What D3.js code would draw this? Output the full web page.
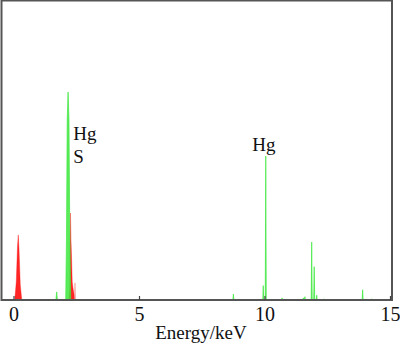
<!DOCTYPE html>
<html lang="en">
<head>
  <meta charset="UTF-8">
  <title>EDS spectrum</title>
  <script src="https://cdn.jsdelivr.net/npm/d3@7"></script>
  <style>
    body { margin: 0; background: #fff; }
    svg text { font-family: "Liberation Serif", "Times New Roman", serif; fill: #111; }
  </style>
</head>
<body>
<div id="chart"></div>

<script type="text/javascript">

  // spectrum traces: [energy keV, counts (arbitrary)]
  var greenTrace = [
    [1.69, 0], [1.72, 27], [1.75, 0],
    [2.08, 0], [2.11, 200], [2.14, 600], [2.175, 693], [2.21, 600], [2.24, 250], [2.28, 0],
    [8.74, 0], [8.76, 20], [8.78, 0],
    [9.93, 0], [9.95, 48], [9.97, 0],
    [10.03, 0], [10.05, 480], [10.07, 0],
    [10.69, 0], [10.7, 7], [10.71, 0],
    [11.53, 0], [11.55, 7], [11.57, 0],
    [11.59, 0], [11.61, 11], [11.63, 0],
    [11.86, 0], [11.88, 193], [11.9, 0],
    [11.96, 0], [11.98, 111], [12.0, 0],
    [12.06, 0], [12.08, 16], [12.1, 0],
    [12.36, 0], [12.37, 4], [12.38, 0],
    [13.89, 0], [13.91, 34], [13.93, 0],
    [14.24, 0], [14.27, 4], [14.3, 0]
  ];

  var redTrace = [
    [0.05, 0], [0.11, 60], [0.16, 180], [0.19, 217], [0.22, 170], [0.27, 50], [0.33, 0],
    [2.2, 0], [2.24, 40], [2.26, 200], [2.27, 290], [2.29, 200], [2.31, 150], [2.34, 60], [2.37, 40], [2.41, 20], [2.45, 0]
  ];

  var redFaint = [[2.43, 0], [2.45, 57], [2.47, 0]];

  var xTicks = [0, 5, 10, 15];
  var xTitle = "Energy/keV";

  // peak labels: [text, energy, counts]
  var peakLabels = [
    ["Hg", 2.38, 535],
    ["S", 2.38, 457],
    ["Hg", 9.51, 497]
  ];

  var width = 400, height = 346;
  var plot = { left: 1.5, top: 0.5, right: 392, bottom: 300 };

  var svg = d3.select("#chart").append("svg")
    .attr("width", width)
    .attr("height", height);

  var x = d3.scaleLinear().domain([0, 15]).range([13.5, 390]);
  var y = d3.scaleLinear().domain([0, 1000]).range([plot.bottom, plot.bottom - 300]);

  var area = d3.area()
    .x(function(d){ return x(d[0]); })
    .y0(y(0))
    .y1(function(d){ return y(d[1]); });

  //Add red trace (behind)
  svg.append("path")
    .datum(redTrace)
    .attr("d", area)
    .attr("fill", "#ff0d0d")
    .attr("fill-opacity", 0.9)
    .attr("stroke", "#ff0d0d")
    .attr("stroke-opacity", 0.6)
    .attr("stroke-width", 0.6);

  svg.append("path")
    .datum(redFaint)
    .attr("d", area)
    .attr("fill", "#f08080")
    .attr("fill-opacity", 0.6)
    .attr("stroke", "#f08080")
    .attr("stroke-width", 0.5);

  //Add green trace
  svg.append("path")
    .datum(greenTrace)
    .attr("d", area)
    .attr("fill", "#3de83d")
    .attr("fill-opacity", 0.85)
    .attr("stroke", "#3de83d")
    .attr("stroke-opacity", 0.85)
    .attr("stroke-width", 0.8);

  //Frame
  svg.append("rect")
    .attr("x", plot.left)
    .attr("y", plot.top)
    .attr("width", plot.right - plot.left)
    .attr("height", plot.bottom - plot.top)
    .attr("fill", "none")
    .attr("stroke", "#555")
    .attr("stroke-width", 2);

  //Axis
  var axis = svg.append("g")
    .attr("transform", "translate(0," + plot.bottom + ")")
    .call(d3.axisBottom(x).tickValues(xTicks).tickSize(-4).tickPadding(7).tickFormat(d3.format("d")));
  axis.attr("font-family", null);
  axis.select(".domain").remove();
  axis.selectAll("line").attr("stroke", "#444").attr("stroke-width", 1.2);
  axis.selectAll("text")
    .style("font-size", "20px")
    .style("font-family", "'Liberation Serif', 'Times New Roman', serif")
    .attr("fill", "#111");

  svg.append("text")
    .attr("x", 201)
    .attr("y", 339)
    .attr("text-anchor", "middle")
    .style("font-size", "19px")
    .text(xTitle);

  //Peak labels
  svg.selectAll("text.peak")
    .data(peakLabels)
    .enter()
    .append("text")
    .attr("class", "peak")
    .attr("x", function(d){ return x(d[1]); })
    .attr("y", function(d){ return y(d[2]); })
    .style("font-size", "19px")
    .text(function(d){ return d[0]; });

</script>
</body>
</html>
